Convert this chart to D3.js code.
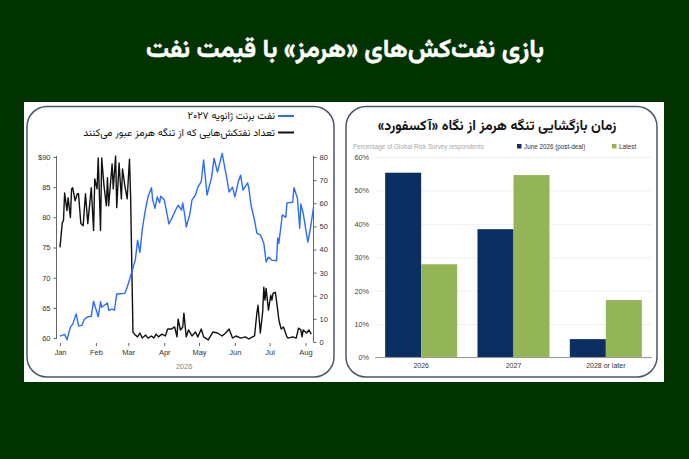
<!DOCTYPE html>
<html>
<head>
<meta charset="utf-8">
<script src="https://cdn.jsdelivr.net/npm/d3@7"></script>
<style>
  html, body { margin: 0; padding: 0; background: #003300; }
  svg { display: block; }
</style>
</head>
<body>
<svg id="chart" width="689" height="459"></svg>
<script>
// ---------------- DATA ----------------
const mainTitle = "بازی نفت‌کش‌های «هرمز» با قیمت نفت";

// Left chart: Brent Jan-2027 futures ($) and tanker transits through Hormuz
const brentDates = ["2026-01-01","2026-01-05","2026-01-07","2026-01-10","2026-01-12","2026-01-15","2026-01-17","2026-01-20","2026-01-22","2026-01-25","2026-01-28","2026-01-30","2026-02-03","2026-02-05","2026-02-06","2026-02-11","2026-02-12","2026-02-15","2026-02-17","2026-02-19","2026-02-26","2026-02-28","2026-03-03","2026-03-07","2026-03-09","2026-03-11","2026-03-13","2026-03-15","2026-03-16","2026-03-18","2026-03-21","2026-03-22","2026-03-24","2026-03-26","2026-03-28","2026-03-29","2026-04-01","2026-04-04","2026-04-05","2026-04-08","2026-04-10","2026-04-13","2026-04-16","2026-04-17","2026-04-19","2026-04-20","2026-04-23","2026-04-25","2026-04-28","2026-04-30","2026-05-03","2026-05-05","2026-05-08","2026-05-12","2026-05-14","2026-05-17","2026-05-21","2026-05-25","2026-05-27","2026-05-30","2026-06-01","2026-06-04","2026-06-06","2026-06-08","2026-06-12","2026-06-13","2026-06-15","2026-06-18","2026-06-20","2026-06-23","2026-06-26","2026-06-27","2026-06-28","2026-06-30","2026-07-03","2026-07-07","2026-07-08","2026-07-09","2026-07-12","2026-07-15","2026-07-16","2026-07-21","2026-07-22","2026-07-25","2026-07-27","2026-07-28","2026-07-30","2026-08-03","2026-08-05","2026-08-08"];
const brentValues = [60.3,60.6,59.7,61.8,62.3,64.0,62.0,62.1,63.1,63.5,63.6,66.1,63.5,66.0,65.1,65.8,64.6,64.8,64.6,67.3,67.4,68.4,70.3,72.9,76.2,74.2,77.9,80.4,81.5,83.4,84.9,82.9,81.5,83.4,82.4,83.5,82.9,80.0,78.9,80.0,80.9,82.0,81.2,82.4,80.0,78.4,80.4,82.9,83.7,85.0,85.9,89.5,83.7,86.7,89.8,87.5,90.6,86.5,84.2,85.0,83.4,85.9,87.0,84.5,85.7,84.9,82.0,79.5,77.4,77.1,75.7,74.2,72.6,73.4,72.9,72.8,76.6,75.7,80.4,80.0,82.4,82.5,84.9,83.2,78.2,82.2,80.7,75.9,77.9,81.7];

const tankerDates = ["2026-01-01","2026-01-03","2026-01-04","2026-01-05","2026-01-07","2026-01-08","2026-01-10","2026-01-11","2026-01-12","2026-01-14","2026-01-16","2026-01-17","2026-01-19","2026-01-21","2026-01-23","2026-01-25","2026-01-28","2026-01-30","2026-01-31","2026-02-02","2026-02-03","2026-02-05","2026-02-06","2026-02-08","2026-02-10","2026-02-11","2026-02-12","2026-02-15","2026-02-16","2026-02-18","2026-02-19","2026-02-21","2026-02-23","2026-02-24","2026-02-26","2026-02-28","2026-03-02","2026-03-03","2026-03-05","2026-03-07","2026-03-09","2026-03-11","2026-03-13","2026-03-16","2026-03-18","2026-03-21","2026-03-23","2026-03-25","2026-03-27","2026-03-30","2026-04-02","2026-04-04","2026-04-07","2026-04-10","2026-04-12","2026-04-13","2026-04-15","2026-04-17","2026-04-18","2026-04-20","2026-04-22","2026-04-25","2026-04-28","2026-04-30","2026-05-03","2026-05-05","2026-05-09","2026-05-13","2026-05-17","2026-05-21","2026-05-24","2026-05-27","2026-05-30","2026-06-02","2026-06-06","2026-06-10","2026-06-13","2026-06-18","2026-06-20","2026-06-21","2026-06-23","2026-06-25","2026-06-26","2026-06-27","2026-06-28","2026-06-30","2026-07-02","2026-07-03","2026-07-04","2026-07-06","2026-07-08","2026-07-09","2026-07-11","2026-07-13","2026-07-16","2026-07-17","2026-07-21","2026-07-24","2026-07-26","2026-07-28","2026-07-29","2026-07-30","2026-08-02","2026-08-04","2026-08-06"];
const tankerValues = [40.9,51.6,52.5,64.5,56.8,62.4,53.8,66.2,66.7,61.1,64.1,64.1,51.2,50.3,64.1,51.2,66.7,48.2,70.5,66.2,79.6,48.2,79.6,67.5,58.9,71.0,58.9,77.0,66.2,80.4,58.1,77.4,61.9,74.8,67.5,61.9,79.1,62.4,4.3,3.0,2.2,3.9,1.7,3.0,1.7,2.6,1.7,3.4,2.2,3.4,2.6,5.6,5.6,6.5,2.2,9.9,5.2,6.5,12.5,2.2,5.2,2.6,4.3,2.2,5.6,2.2,0.9,4.3,3.9,2.6,3.9,5.6,1.7,2.6,1.7,2.2,1.3,2.6,12.5,15.9,3.9,12.9,23.7,18.1,23.2,13.8,20.2,18.1,21.1,21.5,13.8,9.5,5.6,6.5,2.2,1.7,2.2,1.7,6.0,5.2,2.2,5.2,3.9,5.2,3.4];

const leftTicks = [60, 65, 70, 75, 80, 85, 90];
const leftTickLabels = ["60", "65", "70", "75", "80", "85", "$90"];
const rightTicks = [0, 10, 20, 30, 40, 50, 60, 70, 80];
const monthTickDates = ["2026-01-01","2026-02-01","2026-03-01","2026-04-01","2026-05-01","2026-06-01","2026-07-01","2026-08-01"];
const monthTickLabels = ["Jan","Feb","Mar","Apr","May","Jun","Jul","Aug"];
const leftYearLabel = "2026";
const legendBrent = "نفت برنت ژانویه ۲۰۲۷";
const legendTankers = "تعداد نفتکش‌هایی که از تنگه هرمز عبور می‌کنند";

// Right chart: Oxford Economics Global Risk Survey
const rightTitle = "زمان بازگشایی تنگه هرمز از نگاه «آکسفورد»";
const rightSubtitle = "Percentage of Global Risk Survey respondents";
const surveyCategories = ["2026", "2027", "2028 or later"];
const surveySeries = ["June 2026 (post-deal)", "Latest"];
const surveyJune = [55.3, 38.4, 5.5];
const surveyLatest = [27.9, 54.6, 17.2];
const pctTicks = [0, 10, 20, 30, 40, 50, 60];

// ---------------- STYLE ----------------
const BG = "#003300";
const BLUE = "#2c6bff";
const NAVY = "#0c2f62";
const GREEN = "#93b556";
const FA = "'Vazirmatn','Noto Sans Arabic','DejaVu Sans',sans-serif";
const LAT = "'Liberation Sans',Arial,Helvetica,sans-serif";

const svg = d3.select("#chart");
svg.append("rect").attr("width", 689).attr("height", 459).attr("fill", BG);

// Main title
svg.append("text")
  .attr("x", 345).attr("y", 57)
  .attr("text-anchor", "middle")
  .attr("direction", "rtl")
  .attr("font-family", FA).attr("font-weight", "bold").attr("font-size", 25.5)
  .attr("fill", "#ffffff")
  .attr("stroke", "#ffffff").attr("stroke-width", 0.4)
  .text(mainTitle);

// White card
svg.append("rect").attr("x", 24).attr("y", 102).attr("width", 640).attr("height", 280).attr("fill", "#ffffff");

// Panel frames
svg.append("rect").attr("x", 27).attr("y", 106.5).attr("width", 307).attr("height", 270.5)
  .attr("rx", 20).attr("ry", 20).attr("fill", "none").attr("stroke", "#4a5568").attr("stroke-width", 1.5);
svg.append("rect").attr("x", 346).attr("y", 106.5).attr("width", 311).attr("height", 270.5)
  .attr("rx", 20).attr("ry", 20).attr("fill", "none").attr("stroke", "#4a5568").attr("stroke-width", 1.5);

// ---------------- LEFT CHART ----------------
const parse = d3.timeParse("%Y-%m-%d");
const x = d3.scaleTime().domain([parse("2026-01-01"), parse("2026-08-01")]).range([60, 305.5]);
const yL = d3.scaleLinear().domain([60, 90]).range([338, 157]);
const yR = d3.scaleLinear().domain([0, 80]).range([342, 157]);

const lg = svg.append("g");

// left axis
const leftAxis = d3.axisLeft(yL).tickValues(leftTicks).tickFormat((d, i) => leftTickLabels[i]).tickSize(3).tickPadding(3);
const gL = lg.append("g").attr("transform", "translate(56.5,0)").call(leftAxis);
gL.select(".domain").attr("stroke", "#666").attr("d", "M0," + (yL(60) + 1) + "V" + (yL(90) - 1));
gL.selectAll(".tick line").attr("stroke", "#666");
gL.selectAll(".tick text").attr("font-family", LAT).attr("font-size", 7.5).attr("fill", "#333");

// right axis
const rightAxis = d3.axisRight(yR).tickValues(rightTicks).tickSize(3).tickPadding(3);
const gR = lg.append("g").attr("transform", "translate(313.5,0)").call(rightAxis);
gR.select(".domain").attr("stroke", "#666").attr("d", "M0," + yR(0) + "V" + (yR(80) - 1));
gR.selectAll(".tick line").attr("stroke", "#666");
gR.selectAll(".tick text").attr("font-family", LAT).attr("font-size", 7.5).attr("fill", "#333");

// bottom axis
const bottomAxis = d3.axisBottom(x).tickValues(monthTickDates.map(parse))
  .tickFormat((d, i) => monthTickLabels[i]).tickSize(3).tickPadding(4);
const gB = lg.append("g").attr("transform", "translate(0,343)").call(bottomAxis);
gB.select(".domain").remove();
gB.selectAll(".tick line").attr("stroke", "#666");
gB.selectAll(".tick text").attr("font-family", LAT).attr("font-size", 7.5).attr("fill", "#333");

lg.append("text").attr("x", 184).attr("y", 369).attr("text-anchor", "middle")
  .attr("font-family", LAT).attr("font-size", 7.5).attr("fill", "#888").text(leftYearLabel);

// lines
const brentData = brentDates.map((d, i) => ({ date: parse(d), v: brentValues[i] }));
const tankerData = tankerDates.map((d, i) => ({ date: parse(d), v: tankerValues[i] }));

lg.append("path").datum(tankerData)
  .attr("fill", "none").attr("stroke", "#111").attr("stroke-width", 1.4).attr("stroke-linejoin", "round")
  .attr("d", d3.line().x(d => x(d.date)).y(d => yR(d.v)));
lg.append("path").datum(brentData)
  .attr("fill", "none").attr("stroke", BLUE).attr("stroke-width", 1.4).attr("stroke-linejoin", "round")
  .attr("d", d3.line().x(d => x(d.date)).y(d => yL(d.v)));

// legend
const legendItems = [{ label: legendBrent, color: BLUE, y: 116 }, { label: legendTankers, color: "#111", y: 132.5 }];
legendItems.forEach(it => {
  lg.append("line").attr("x1", 278).attr("x2", 294).attr("y1", it.y).attr("y2", it.y)
    .attr("stroke", it.color).attr("stroke-width", 2);
  lg.append("text").attr("x", 275).attr("y", it.y + 3).attr("text-anchor", "start").attr("direction", "rtl")
    .attr("font-family", FA).attr("font-size", 10.3).attr("fill", "#111").text(it.label);
});

// ---------------- RIGHT CHART ----------------
const rg = svg.append("g");
rg.append("text").attr("x", 497).attr("y", 130).attr("text-anchor", "middle").attr("direction", "rtl")
  .attr("font-family", FA).attr("font-weight", "bold").attr("font-size", 14).attr("fill", "#111")
  .text(rightTitle);

rg.append("text").attr("x", 353).attr("y", 148.5).attr("font-family", LAT).attr("font-size", 6.3)
  .attr("fill", "#a8a8a8").text(rightSubtitle);

const legendRX = [517, 612];
const seriesColors = [NAVY, GREEN];
surveySeries.forEach((s, i) => {
  rg.append("rect").attr("x", legendRX[i]).attr("y", 144).attr("width", 4.5).attr("height", 4.5).attr("fill", seriesColors[i]);
  rg.append("text").attr("x", legendRX[i] + 7).attr("y", 148.5).attr("font-family", LAT).attr("font-size", 6.3)
    .attr("fill", "#333").text(s);
});

const xb = d3.scaleBand().domain(surveyCategories).range([375, 652]).paddingInner(0.22).paddingOuter(0.11);
const xs = d3.scaleBand().domain(surveySeries).range([0, xb.bandwidth()]);
const yb = d3.scaleLinear().domain([0, 60]).range([357.5, 157]);

// gridlines
const gridAxis = d3.axisLeft(yb).tickValues(pctTicks).tickFormat(d => d + "%").tickSize(-277).tickPadding(6);
const gG = rg.append("g").attr("transform", "translate(375,0)").call(gridAxis);
gG.select(".domain").remove();
gG.selectAll(".tick line").attr("stroke", "#ececec").attr("stroke-width", 0.8);
gG.selectAll(".tick text").attr("font-family", LAT).attr("font-size", 7.3).attr("fill", "#444");

// bars
const barData = [];
surveyCategories.forEach((c, i) => {
  barData.push({ cat: c, series: surveySeries[0], v: surveyJune[i], color: NAVY });
  barData.push({ cat: c, series: surveySeries[1], v: surveyLatest[i], color: GREEN });
});
rg.selectAll("rect.bar").data(barData).enter().append("rect").attr("class", "bar")
  .attr("x", d => xb(d.cat) + xs(d.series))
  .attr("width", xs.bandwidth())
  .attr("y", d => yb(d.v))
  .attr("height", d => yb(0) - yb(d.v))
  .attr("fill", d => d.color);

// baseline
rg.append("line").attr("x1", 375).attr("x2", 652).attr("y1", yb(0)).attr("y2", yb(0))
  .attr("stroke", "#9a9a9a").attr("stroke-width", 1);

// category axis
const catAxis = d3.axisBottom(xb).tickSize(0).tickPadding(6);
const gC = rg.append("g").attr("transform", "translate(0," + yb(0) + ")").call(catAxis);
gC.select(".domain").remove();
gC.selectAll(".tick text").attr("font-family", LAT).attr("font-size", 7).attr("fill", "#333");
</script>
</body>
</html>
